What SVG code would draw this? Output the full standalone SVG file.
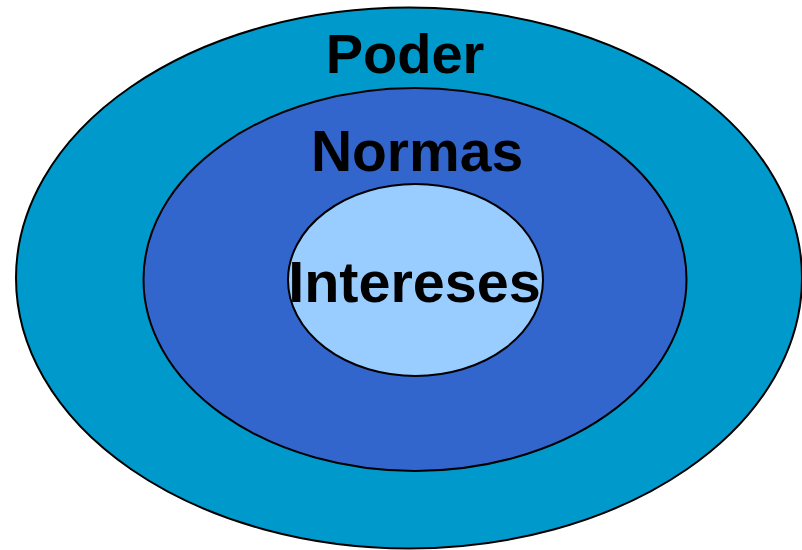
<svg xmlns="http://www.w3.org/2000/svg" width="802" height="550" viewBox="0 0 802 550">
<style>
.e{stroke:#000;stroke-width:2}
.t{font-family:"Liberation Sans",Arial,sans-serif;font-weight:bold;fill:#000;text-anchor:middle}
</style>
<rect width="802" height="550" fill="#fff"/>
<g id="poder">
<ellipse class="e" cx="409" cy="278" rx="393" ry="270.5" fill="#0099CC"/>
<text class="t" x="405" y="73" font-size="56">Poder</text>
</g>
<g id="normas">
<ellipse class="e" cx="415" cy="279.5" rx="271.5" ry="191.5" fill="#3366CC"/>
<text class="t" x="417" y="171" font-size="57">Normas</text>
</g>
<g id="intereses">
<ellipse class="e" cx="415.5" cy="280" rx="127.5" ry="96" fill="#99CCFF"/>
<text class="t" x="414.5" y="302" font-size="57.5">Intereses</text>
</g>
<g id="connectors"/>
</svg>
